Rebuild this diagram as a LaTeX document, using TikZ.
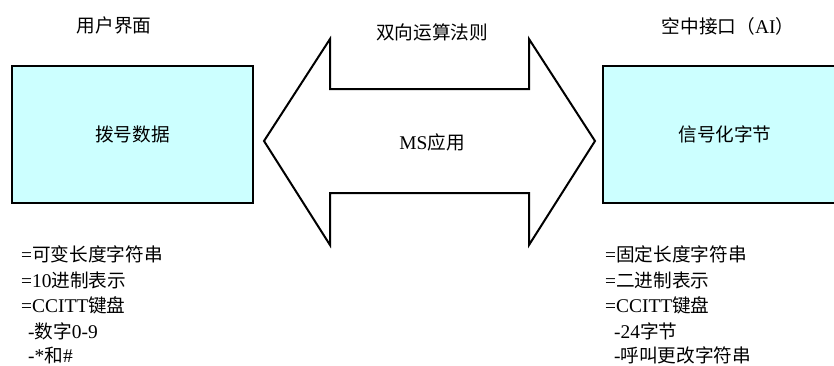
\documentclass[tikz,border=0pt]{standalone}
\usepackage{fontspec}
\setmainfont{Liberation Serif}
\newfontfamily\cjk{Noto Sans CJK SC}[Scale=0.96]
\newcommand{\zh}[1]{{\cjk #1}}
\definecolor{boxcyan}{RGB}{204,255,255}
\tikzset{
  panel/.style={draw=black, line width=2bp, fill=boxcyan, inner sep=0pt},
  lbl/.style={inner sep=0pt, font=\fontsize{19.5}{24}\selectfont},
  lineitem/.style={lbl, anchor=base west},
  bigarrow/.style={draw=black, line width=2bp, fill=white, line join=miter}
}
\begin{document}
\begin{tikzpicture}[x=1bp,y=-1bp]
\clip (0,0) rectangle (834,365);
\fill[white] (0,0) rectangle (834,365);

% titles
\node[lbl] (ui) at (114,25) {\zh{用户界面}};
\node[lbl] (algo) at (432,32) {\zh{双向运算法则}};
\node[lbl] (air) at (728,26) {\zh{空中接口（}AI\zh{）}};

% boxes
\node[panel, minimum width=241bp, minimum height=137bp] (dial) at (132.5,134.5) {};
\node[lbl] (dialtxt) at (dial.center) {\zh{拨号数据}};
\node[panel, minimum width=244bp, minimum height=137bp] (sig) at (725,134.5) {};
\node[lbl] (sigtxt) at (sig.center) {\zh{信号化字节}};

% double arrow
\draw[bigarrow] (264,141) -- (330,39) -- (330,89) -- (529,89) -- (529,39)
  -- (595,141) -- (529,245) -- (529,193) -- (330,193) -- (330,245) -- cycle;
\node[lbl] (ms) at (432,142) {MS\zh{应用}};

% left list
\node[lineitem] (l1) at (21,261) {=\zh{可变长度字符串}};
\node[lineitem] (l2) at (21,287) {=10\zh{进制表示}};
\node[lineitem] (l3) at (21,312) {=CCITT\zh{键盘}};
\node[lineitem] (l4) at (28,338) {-\zh{数字}0-9};
\node[lineitem] (l5) at (28,362) {-*\zh{和}\#};

% right list
\node[lineitem] (r1) at (605,261) {=\zh{固定长度字符串}};
\node[lineitem] (r2) at (605,287) {=\zh{二进制表示}};
\node[lineitem] (r3) at (605,312) {=CCITT\zh{键盘}};
\node[lineitem] (r4) at (614,338) {-24\zh{字节}};
\node[lineitem] (r5) at (614,362) {-\zh{呼叫更改字符串}};
\end{tikzpicture}
\end{document}
